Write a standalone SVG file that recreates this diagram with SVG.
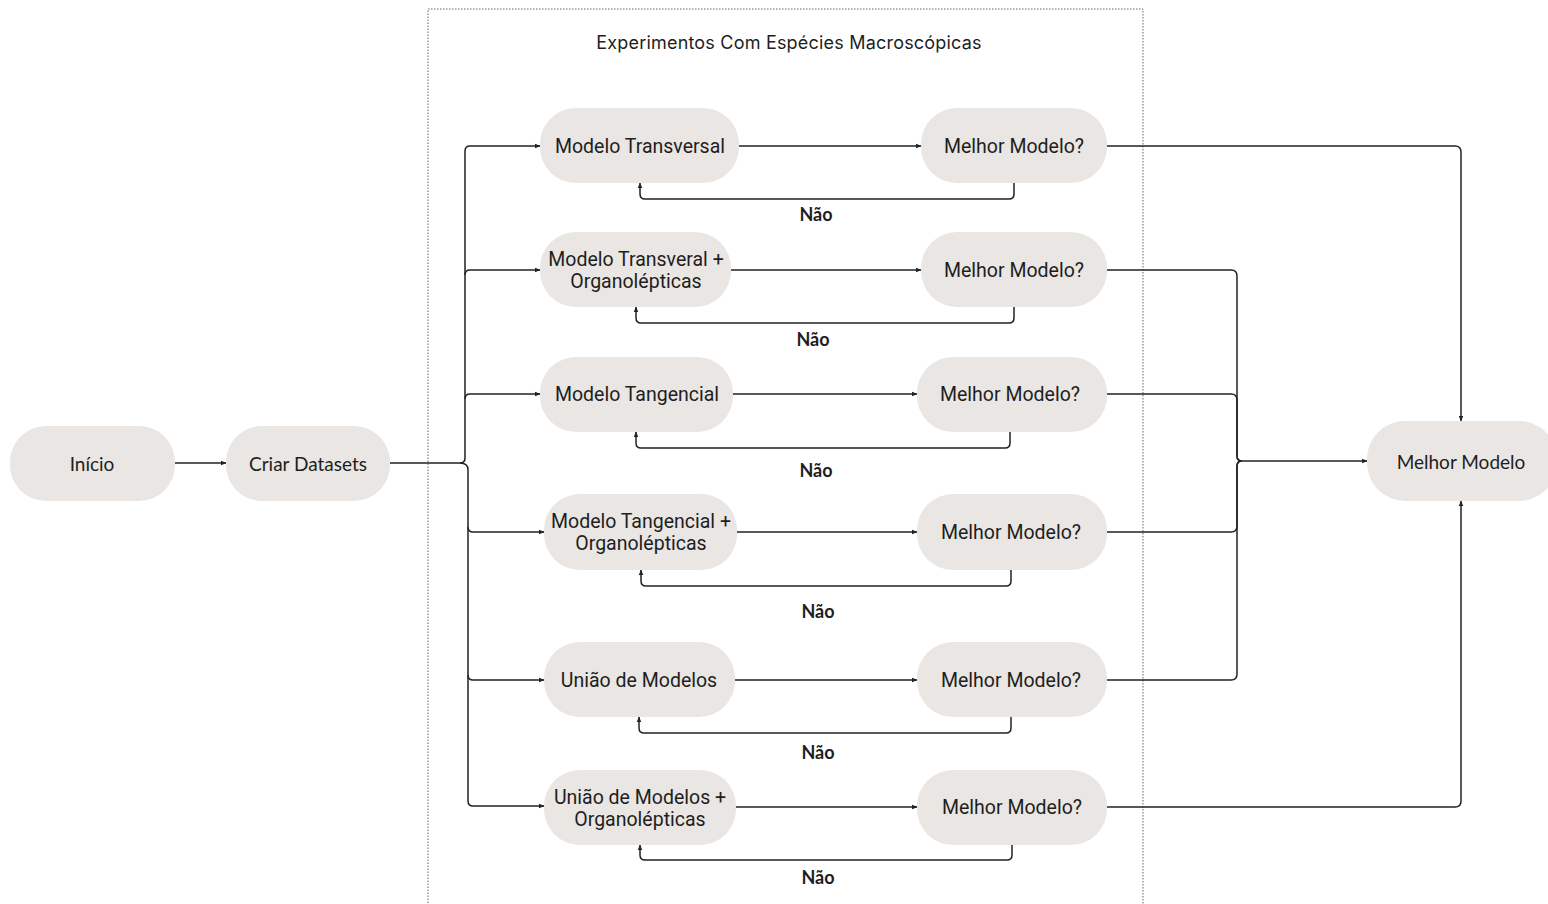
<svg xmlns="http://www.w3.org/2000/svg" width="1548" height="904" viewBox="0 0 1548 904">
<style>
.node{fill:#e9e6e3;}
.t1{font-family:Roboto,"Liberation Sans",sans-serif;font-size:19.5px;fill:#1e1e1e;text-anchor:middle;dominant-baseline:central;}
.t2{font-family:Lato,"Liberation Sans",sans-serif;font-size:19px;fill:#1e1e1e;text-anchor:middle;dominant-baseline:central;}
.nao{font-family:Lato,"Liberation Sans",sans-serif;font-size:18px;font-weight:bold;fill:#1e1e1e;text-anchor:middle;dominant-baseline:central;}
.title{font-family:Inter,"Liberation Sans",sans-serif;font-size:18px;letter-spacing:0.2px;fill:#1e1e1e;text-anchor:middle;dominant-baseline:central;}
.c{fill:none;stroke:#222;stroke-width:1.5;}
.a{marker-end:url(#ah);}
.frame{fill:none;stroke:#666;stroke-width:1;stroke-dasharray:1.5 1.5;}
</style>
<defs>
<marker id="ah" viewBox="0 0 10 10" refX="9" refY="5" markerWidth="6" markerHeight="6" orient="auto" markerUnits="userSpaceOnUse"><path d="M0,1 L10,5 L0,9 z" fill="#222"/></marker>
</defs>
<rect width="1548" height="904" fill="#ffffff"/>
<rect class="frame" x="428" y="9" width="715" height="905"/>
<text class="title" x="789" y="42">Experimentos Com Espécies Macroscópicas</text>

<g id="connectors">
<path class="c a" d="M175,463 H226"/>
<path class="c a" d="M390,463 H460 Q465,463 465,458 V151 Q465,146 470,146 H540"/>
<path class="c a" d="M465,275 Q465,270 470,270 H540"/>
<path class="c a" d="M465,399 Q465,394 470,394 H540"/>
<path class="c a" d="M460,463 Q468,463 468,470 V801 Q468,806 473,806 H544"/>
<path class="c a" d="M468,527 Q468,532 473,532 H544"/>
<path class="c a" d="M468,675 Q468,680 473,680 H544"/>

<path class="c a" d="M739,146 H921"/>
<path class="c a" d="M731,270 H921"/>
<path class="c a" d="M733,394 H917"/>
<path class="c a" d="M737,532 H917"/>
<path class="c a" d="M735,680 H917"/>
<path class="c a" d="M736,807 H917"/>

<path class="c a" d="M1014,183 V194 Q1014,199 1009,199 H645 Q640,199 640,194 V183"/>
<path class="c a" d="M1014,307 V318 Q1014,323 1009,323 H641 Q636,323 636,318 V307"/>
<path class="c a" d="M1010,432 V443 Q1010,448 1005,448 H641 Q636,448 636,443 V432"/>
<path class="c a" d="M1011,570 V581 Q1011,586 1006,586 H646 Q641,586 641,581 V570"/>
<path class="c a" d="M1011,717 V728 Q1011,733 1006,733 H644 Q639,733 639,728 V717"/>
<path class="c a" d="M1012,845 V855 Q1012,860 1007,860 H645 Q640,860 640,855 V845"/>

<path class="c a" d="M1107,146 H1455 Q1461,146 1461,152 V421"/>
<path class="c" d="M1107,270 H1231 Q1237,270 1237,276 V456 Q1237,461 1242,461"/>
<path class="c" d="M1107,394 H1231 Q1237,394 1237,400 V456 Q1237,461 1242,461"/>
<path class="c" d="M1107,532 H1231 Q1237,532 1237,526 V466 Q1237,461 1242,461"/>
<path class="c" d="M1107,680 H1231 Q1237,680 1237,674 V466 Q1237,461 1242,461"/>
<path class="c a" d="M1242,461 H1367"/>
<path class="c a" d="M1107,807 H1455 Q1461,807 1461,801 V501"/>

<text class="nao" x="816" y="214">Não</text>
<text class="nao" x="813" y="339">Não</text>
<text class="nao" x="816" y="470">Não</text>
<text class="nao" x="818" y="611">Não</text>
<text class="nao" x="818" y="752">Não</text>
<text class="nao" x="818" y="877">Não</text>
</g>

<g id="inicio"><rect class="node" x="10" y="426" width="165" height="75" rx="36"/><text class="t2" x="92" y="463">Início</text></g>
<g id="criar"><rect class="node" x="226" y="426" width="164" height="75" rx="36"/><text class="t2" x="308" y="463">Criar Datasets</text></g>

<g id="l1"><rect class="node" x="540" y="108" width="199" height="75" rx="36"/><text class="t1" x="640" y="146">Modelo Transversal</text></g>
<g id="r1"><rect class="node" x="921" y="108" width="186" height="75" rx="36"/><text class="t1" x="1014" y="146">Melhor Modelo?</text></g>

<g id="l2"><rect class="node" x="540" y="232" width="191" height="75" rx="36"/><text class="t1" x="636" y="259">Modelo Transveral +</text><text class="t1" x="636" y="281">Organolépticas</text></g>
<g id="r2"><rect class="node" x="921" y="232" width="186" height="75" rx="36"/><text class="t1" x="1014" y="270">Melhor Modelo?</text></g>

<g id="l3"><rect class="node" x="540" y="357" width="193" height="75" rx="36"/><text class="t1" x="637" y="394">Modelo Tangencial</text></g>
<g id="r3"><rect class="node" x="917" y="357" width="190" height="75" rx="36"/><text class="t1" x="1010" y="394">Melhor Modelo?</text></g>

<g id="l4"><rect class="node" x="544" y="494" width="193" height="76" rx="36"/><text class="t1" x="641" y="521">Modelo Tangencial +</text><text class="t1" x="641" y="543">Organolépticas</text></g>
<g id="r4"><rect class="node" x="917" y="494" width="190" height="76" rx="36"/><text class="t1" x="1011" y="532">Melhor Modelo?</text></g>

<g id="l5"><rect class="node" x="544" y="642" width="191" height="75" rx="36"/><text class="t1" x="639" y="680">União de Modelos</text></g>
<g id="r5"><rect class="node" x="917" y="642" width="190" height="75" rx="36"/><text class="t1" x="1011" y="680">Melhor Modelo?</text></g>

<g id="l6"><rect class="node" x="544" y="770" width="192" height="75" rx="36"/><text class="t1" x="640" y="797">União de Modelos +</text><text class="t1" x="640" y="819">Organolépticas</text></g>
<g id="r6"><rect class="node" x="917" y="770" width="190" height="75" rx="36"/><text class="t1" x="1012" y="807">Melhor Modelo?</text></g>

<g id="melhor"><rect class="node" x="1367" y="421" width="190" height="80" rx="38"/><text class="t2" x="1461" y="461">Melhor Modelo</text></g>
</svg>
